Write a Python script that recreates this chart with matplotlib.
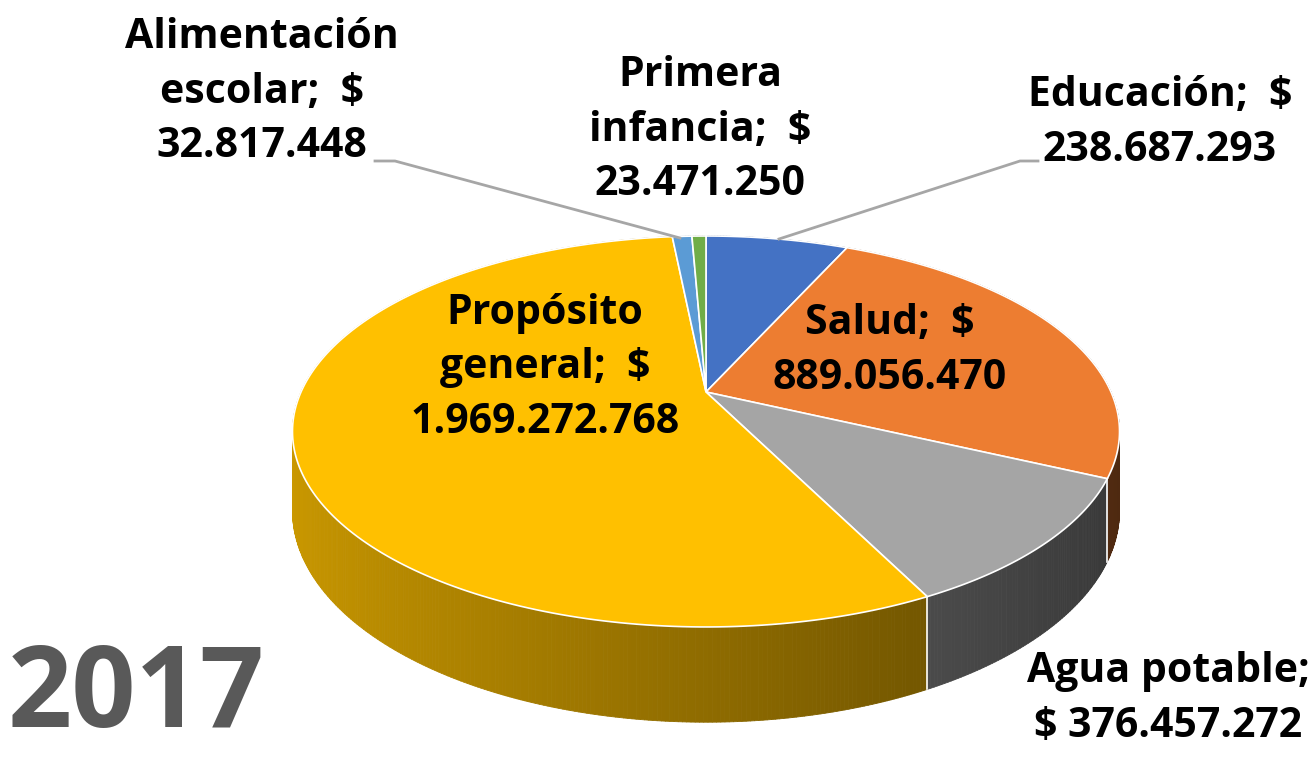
import numpy as np
import matplotlib.pyplot as plt
from matplotlib.collections import PolyCollection
from matplotlib.patches import Polygon
from matplotlib.colors import to_rgb

# Datos
names = ["Educación", "Salud", "Agua potable", "Propósito general",
         "Alimentación escolar", "Primera infancia"]
values = [238687293, 889056470, 376457272, 1969272768, 32817448, 23471250]
colors = ["#4472C4", "#ED7D31", "#A5A5A5", "#FFC000", "#5B9BD5", "#70AD47"]
heads = ["Educación;  $\n{}", "Salud;  $\n{}", "Agua potable;\n$ {}",
         "Propósito\ngeneral;  $\n{}", "Alimentación\nescolar;  $\n{}",
         "Primera\ninfancia;  $\n{}"]
year = "2017"

# geometría del pastel (px)
X0, Y0 = 706, 392
B, A, K = 405, 187.5, 0.202
H = 76

def proj(theta, z=0.0):
    u = np.sin(theta)
    v = -np.cos(theta)
    d = 1 - K * v
    return X0 + B * u / d, Y0 + (A * v + z) / d

plt.rcParams['font.family'] = ['Open Sans', 'DejaVu Sans']

fig = plt.figure(figsize=(13.16, 7.58), dpi=100)
ax = fig.add_axes([0, 0, 1, 1])
ax.set_xlim(0, 1316)
ax.set_ylim(758, 0)
ax.axis("off")

vals = np.array(values, dtype=float)
bounds = np.concatenate([[0], np.cumsum(vals) / vals.sum()]) * 2 * np.pi

# caras laterales
quads, qcols, qv = [], [], []
for i in range(len(vals)):
    t = np.linspace(bounds[i], bounds[i + 1], max(3, int((bounds[i + 1] - bounds[i]) * 120)))
    base = np.array(to_rgb(colors[i]))
    for a0, a1 in zip(t[:-1], t[1:]):
        xa, ya = proj(a0)
        xb, yb = proj(a1)
        xc, yc = proj(a1, H)
        xd, yd = proj(a0, H)
        um = np.sin((a0 + a1) / 2)
        f = np.clip(0.56 - 0.24 * um, 0.3, 0.9)
        quads.append([(xa, ya), (xb, yb), (xc, yc), (xd, yd)])
        qcols.append(base * f)
        qv.append(-np.cos((a0 + a1) / 2))
order = np.argsort(qv)
pc = PolyCollection([quads[j] for j in order], facecolors=[qcols[j] for j in order],
                    edgecolors=[qcols[j] for j in order], linewidths=0.6, zorder=1)
ax.add_collection(pc)

# bordes blancos en el lateral
for b in bounds:
    if -np.cos(b) > K:
        x1, y1 = proj(b)
        x2, y2 = proj(b, H)
        ax.plot([x1, x2], [y1, y2], color="white", lw=1.2, zorder=2)

# cara superior
for i in range(len(vals)):
    t = np.linspace(bounds[i], bounds[i + 1], 200)
    xs, ys = proj(t)
    pts = [(X0, Y0)] + list(zip(xs, ys))
    ax.add_patch(Polygon(pts, closed=True, facecolor=colors[i], edgecolor="white",
                         lw=1.2, zorder=3))

# etiquetas
def fmt(v):
    return f"{v:,}".replace(",", ".")

label_pos = [(1160, 123), (890, 351), (1168, 699), (545, 368), (262, 92), (700, 130)]
for i in range(len(vals)):
    ax.text(label_pos[i][0], label_pos[i][1], heads[i].format(fmt(values[i])),
            ha="center", va="center", fontsize=29.5, fontweight="bold",
            color="black", linespacing=1.42, zorder=5)

# líneas guía
ax.plot([375, 395, 680], [161, 161, 238], color="#A6A6A6", lw=2, zorder=4)
ax.plot([1038, 1020, 779], [161, 161, 239], color="#A6A6A6", lw=2, zorder=4)

ax.text(8, 697, year, ha="left", va="center", fontsize=81, fontweight="bold",
        color="#595959")

fig.savefig("out.png", dpi=100)
